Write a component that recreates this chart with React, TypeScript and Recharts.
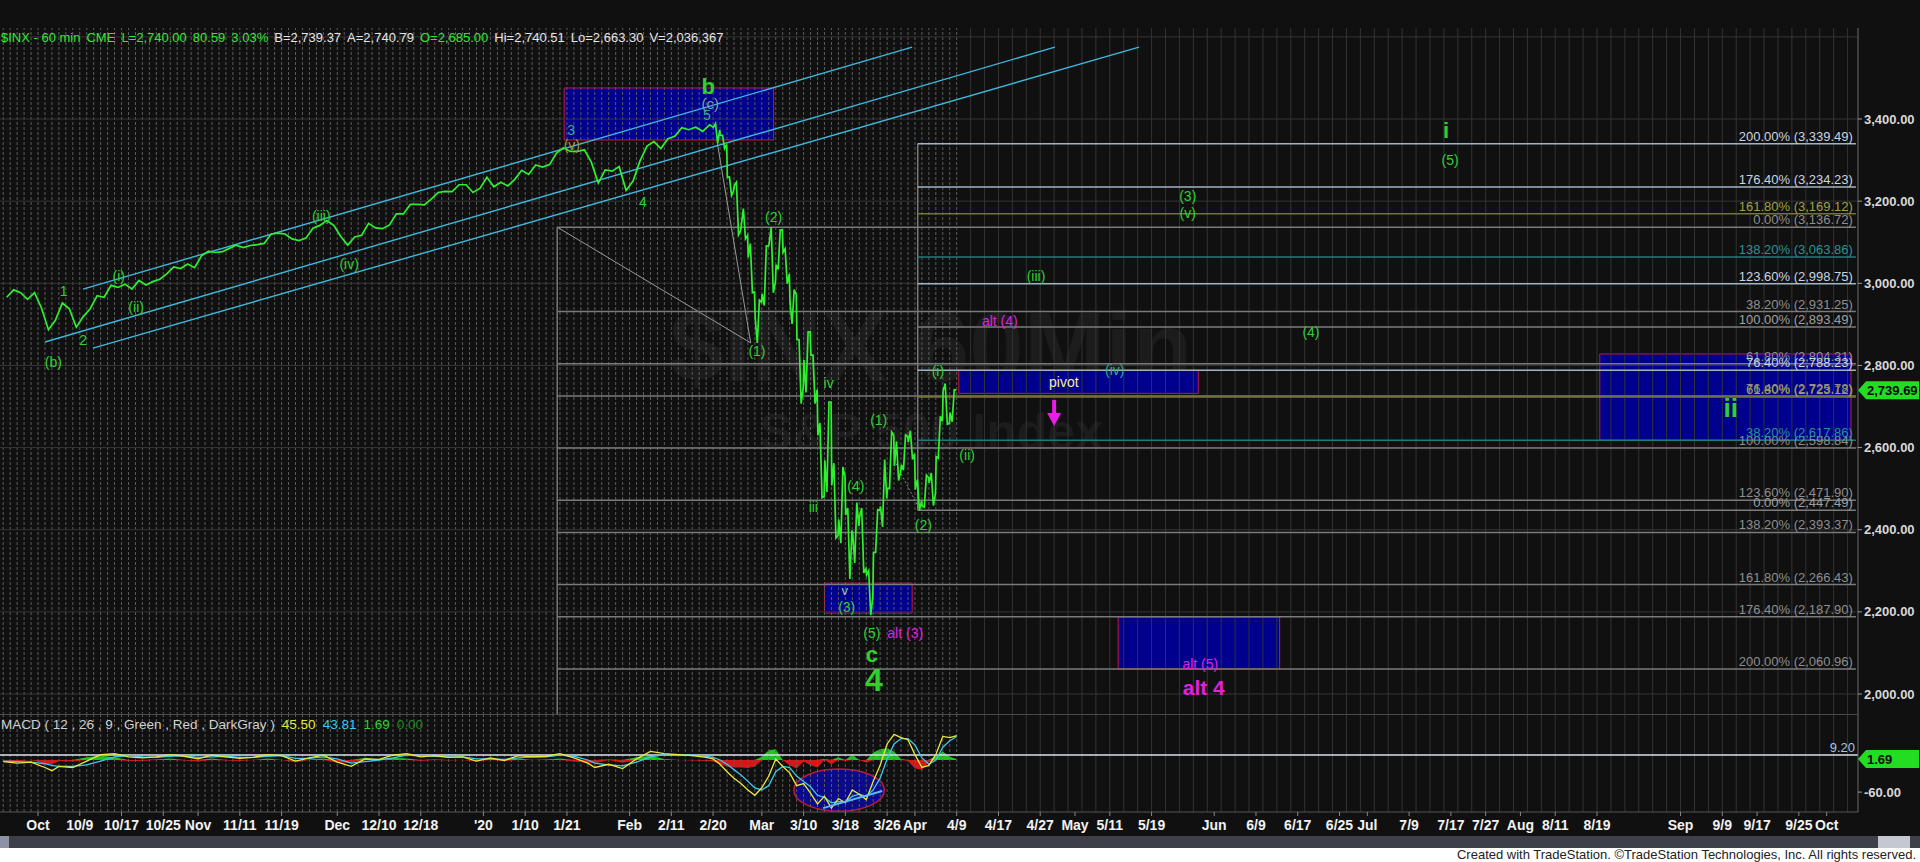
import React from 'react';
import {
  ComposedChart,
  Line,
  Area,
  Scatter,
  XAxis,
  YAxis,
  ReferenceLine,
  ReferenceArea,
  ReferenceDot,
} from 'recharts';

const NARROW = "'Liberation Sans Narrow', 'Arial Narrow', sans-serif";
const SANS = "'Liberation Sans', Arial, sans-serif";

// x runs in trading days from Oct 1 2019 (the empty future part counts weekdays)
const X_MIN = -5.46;
const X_MAX = 261.5;
const P_MIN = 1948.9;
const P_MAX = 3621.6;
const M_MIN = -97.2;
const M_MAX = 84.1;

const tickLabels = ['Oct', '10/9', '10/17', '10/25', 'Nov', '11/11', '11/19', 'Dec', '12/10', '12/18', "'20", '1/10', '1/21', 'Feb', '2/11', '2/20', 'Mar', '3/10', '3/18', '3/26', 'Apr', '4/9', '4/17', '4/27', 'May', '5/11', '5/19', 'Jun', '6/9', '6/17', '6/25', 'Jul', '7/9', '7/17', '7/27', 'Aug', '8/11', '8/19', 'Sep', '9/9', '9/17', '9/25', 'Oct'];
const tickDays = [0, 6, 12, 18, 23, 29, 35, 43, 49, 55, 64, 70, 76, 85, 91, 97, 104, 110, 116, 122, 126, 132, 138, 144, 149, 154, 160, 169, 175, 181, 187, 191, 197, 203, 208, 213, 218, 224, 236, 242, 247, 253, 257];
const priceTicks = [2000, 2200, 2400, 2600, 2800, 3000, 3200, 3400];

// one close per trading day, Sep 24 2019 .. Feb 19 2020
const CALM_START = -5;
const calmCloses = [
  2966, 2984, 2977, 2961, 2977, 2940, 2887, 2910, 2952, 2938, 2893, 2919, 2938, 2970, 2966, 2995, 2990, 2998, 2986, 3007,
  2996, 3004, 3010, 3023, 3040, 3036, 3047, 3038, 3067, 3078, 3075, 3077, 3085, 3093, 3087, 3092, 3094, 3097, 3120, 3122,
  3120, 3108, 3104, 3110, 3134, 3141, 3153, 3141, 3114, 3093, 3113, 3117, 3146, 3135, 3133, 3142, 3169, 3169, 3192, 3192,
  3191, 3205, 3221, 3224, 3223, 3240, 3240, 3221, 3231, 3258, 3235, 3246, 3237, 3253, 3275, 3265, 3288, 3283, 3289, 3317,
  3330, 3321, 3321, 3325, 3295, 3244, 3276, 3273, 3284, 3226, 3249, 3298, 3334, 3345, 3328, 3352, 3358, 3379, 3374, 3380,
  3370, 3386,
];

// open, high, low, close per day, Feb 20 .. Apr 8 2020
const CRASH_START = 97;
const crashBars = [
  [3380, 3389, 3341, 3373], [3360, 3360, 3328, 3338], [3258, 3259, 3214, 3226], [3238, 3246, 3118, 3128],
  [3140, 3182, 3108, 3116], [3063, 3097, 2977, 2979], [2916, 2959, 2855, 2954], [2974, 3091, 2946, 3090],
  [3096, 3137, 2977, 3003], [3045, 3130, 3034, 3130], [3075, 3084, 2999, 3023], [2954, 2985, 2901, 2972],
  [2863, 2863, 2707, 2746], [2813, 2882, 2734, 2882], [2825, 2825, 2707, 2741], [2630, 2660, 2478, 2481],
  [2569, 2711, 2492, 2711], [2508, 2562, 2380, 2386], [2425, 2553, 2367, 2529], [2436, 2453, 2280, 2398],
  [2393, 2466, 2319, 2409], [2431, 2453, 2295, 2305], [2290, 2300, 2192, 2237], [2345, 2449, 2345, 2447],
  [2457, 2571, 2407, 2476], [2501, 2638, 2500, 2630], [2555, 2615, 2520, 2541], [2558, 2631, 2545, 2627],
  [2614, 2641, 2571, 2585], [2498, 2522, 2447, 2470], [2458, 2533, 2455, 2527], [2514, 2538, 2459, 2489],
  [2578, 2676, 2574, 2664], [2738, 2756, 2657, 2659], [2685, 2741, 2663, 2740],
];
const LAST_PRICE = 2739.69;

// MACD panel
const macdDays = [-5, -3, -1, 1, 2, 3, 5, 7, 9, 11, 13, 15, 17, 19, 21, 23, 25, 27, 29, 31, 33, 35, 37, 39, 41, 43, 45, 47, 49, 51, 53, 55, 57, 59, 61, 63, 65, 67, 69, 71, 73, 75, 77, 79, 80, 82, 84, 86, 88, 90, 92, 94, 96, 97, 98, 99, 100, 101, 102, 103, 104, 105, 106, 107, 108, 109, 110, 111, 112, 113, 114, 115, 116, 117, 118, 119, 120, 121, 122, 123, 124, 125, 126, 127, 128, 129, 130, 131, 132];
const macdVals = [-3, -6, -4, -14, -20, -12, -14, -2, 10, 12, 6, 4, 6, 10, 7, 2, 9, 6, 3, 5, 10, 8, -2, 4, 9, -4, -12, 2, 1, 9, 12, 6, 8, 5, 6, -2, 4, -1, 8, 6, 7, 12, 4, -6, -14, -8, -16, 2, 16, 12, 10, 8, 5, 2, -8, -22, -34, -44, -56, -66, -52, -30, 2, -12, -24, -48, -44, -62, -82, -68, -90, -72, -80, -56, -64, -74, -40, -10, 30, 48, 42, 38, 10, -14, -10, 10, 44, 42, 45.5];
const signalVals = [-2, -3, -4, -7, -10, -12, -12, -9, -2, 6, 8, 6, 5, 7, 8, 5, 6, 7, 5, 5, 7, 8, 3, 3, 6, 2, -6, -3, 0, 4, 9, 8, 7, 6, 6, 2, 2, 1, 4, 6, 6, 9, 7, 0, -6, -9, -11, -4, 6, 10, 10, 9, 7, 5, 0, -8, -18, -28, -40, -52, -56, -48, -22, -12, -14, -30, -40, -50, -66, -70, -80, -78, -78, -68, -64, -68, -56, -34, 2, 30, 40, 40, 28, 4, -8, 0, 24, 36, 43.8];
const histVals = [-1, -3, 0, -7, -8, -2, -3, 5, 8, 5, -2, -2, 1, 3, -1, -3, 3, -1, -2, 0, 3, 0, -4, 1, 3, -5, -5, 4, 1, 4, 3, -2, 1, -1, 0, -3, 2, -2, 3, 0, 1, 3, -3, -5, -6, 1, -5, 5, 8, 2, 0, -1, -2, -3, -8, -12, -14, -14, -15, -12, 6, 18, 20, 0, -10, -16, -3, -10, -14, 2, -8, 5, -2, 10, 0, -5, 14, 20, 22, 16, 2, -2, -16, -18, -4, 8, 16, 6, 1.69];

// fib extension drawn from the Feb top (gray) and from the Apr 1 low
const FIB_A_START = 74.6;
const fibA = [
  ['0.00%', 3136.72], ['38.20%', 2931.25], ['61.80%', 2804.31], ['76.40%', 2725.78], ['100.00%', 2598.84],
  ['123.60%', 2471.9], ['138.20%', 2393.37], ['161.80%', 2266.43], ['176.40%', 2187.9], ['200.00%', 2060.96],
];
const FIB_B_START = 126.4;
const fibB = [
  ['0.00%', 2447.49], ['38.20%', 2617.86], ['61.80%', 2723.12], ['76.40%', 2788.23], ['100.00%', 2893.49],
  ['123.60%', 2998.75], ['138.20%', 3063.86], ['161.80%', 3169.12], ['176.40%', 3234.23], ['200.00%', 3339.49],
];
const FIB_END = 261.2;

// channel lines [d1, p1, d2, p2]
const channels = [
  [6.47, 2986, 125.6, 3575],
  [1.0, 2857, 146.1, 3575],
  [7.9, 2842, 158.2, 3575],
];

// target boxes [d1, d2, p1, p2]
const boxes = [
  [75.6, 105.7, 3349, 3475.5],
  [132.3, 166.7, 2732, 2788],
  [224.4, 260.5, 2618, 2828],
  [113, 125.6, 2197, 2270],
  [155.2, 178.4, 2061, 2187.5],
];

const waveLabels = [
  { t: '(b)', d: 2.2, p: 2808, k: 'g' },
  { t: '1', d: 3.7, p: 2981, k: 'g' },
  { t: '2', d: 6.5, p: 2862, k: 'g' },
  { t: '(i)', d: 11.6, p: 3018, k: 'g' },
  { t: '(ii)', d: 14.1, p: 2942, k: 'g' },
  { t: '(iii)', d: 40.7, p: 3164, k: 'g' },
  { t: '(iv)', d: 44.7, p: 3047, k: 'g' },
  { t: '3', d: 76.6, p: 3373, k: 'teal' },
  { t: '(v)', d: 76.7, p: 3337, k: 'olive' },
  { t: '4', d: 86.9, p: 3198, k: 'g' },
  { t: 'b', d: 96.3, p: 3478, k: 'big' },
  { t: '(c)', d: 96.6, p: 3437, k: 'grayTeal' },
  { t: '5', d: 96.1, p: 3410, k: 'teal' },
  { t: '(1)', d: 103.3, p: 2835, k: 'g' },
  { t: '(2)', d: 105.7, p: 3161, k: 'g' },
  { t: 'iv', d: 113.6, p: 2757, k: 'g' },
  { t: 'iii', d: 111.4, p: 2455, k: 'g' },
  { t: '(4)', d: 117.5, p: 2506, k: 'g' },
  { t: '(1)', d: 120.8, p: 2667, k: 'g' },
  { t: 'v', d: 115.9, p: 2253, k: 'pale' },
  { t: '(3)', d: 116.2, p: 2212, k: 'g' },
  { t: '(5)', d: 119.8, p: 2149, k: 'g' },
  { t: 'alt (3)', d: 124.6, p: 2149, k: 'alt' },
  { t: 'c', d: 119.8, p: 2095, k: 'big' },
  { t: '4', d: 120.1, p: 2034, k: 'huge' },
  { t: '(2)', d: 127.2, p: 2411, k: 'g' },
  { t: '(i)', d: 129.3, p: 2786, k: 'g' },
  { t: '(ii)', d: 133.5, p: 2582, k: 'g' },
  { t: 'alt (4)', d: 138.2, p: 2908, k: 'alt' },
  { t: '(iii)', d: 143.4, p: 3018, k: 'g' },
  { t: '(iv)', d: 154.7, p: 2789, k: 'teal' },
  { t: '(3)', d: 165.2, p: 3213, k: 'g' },
  { t: '(v)', d: 165.2, p: 3171, k: 'g' },
  { t: '(4)', d: 182.9, p: 2881, k: 'g' },
  { t: 'i', d: 202.3, p: 3373, k: 'big' },
  { t: '(5)', d: 202.9, p: 3300, k: 'g' },
  { t: 'ii', d: 243.2, p: 2696, k: 'bigger' },
  { t: 'alt (5)', d: 167, p: 2073, k: 'alt' },
  { t: 'alt 4', d: 167.5, p: 2017, k: 'altBig' },
  { t: 'pivot', d: 147.4, p: 2760, k: 'pivot' },
];

const headerItems = [
  ['$INX - 60 min', '#33e633'], ['CME', '#33e633'], ['L=2,740.00', '#33e633'], ['80.59', '#33e633'], ['3.03%', '#33e633'],
  ['B=2,739.37', '#e6e6e6'], ['A=2,740.79', '#e6e6e6'], ['O=2,685.00', '#33e633'], ['Hi=2,740.51', '#e6e6e6'],
  ['Lo=2,663.30', '#e6e6e6'], ['V=2,036,367', '#e6e6e6'],
];

const labelStyle: Record<string, any> = {
  g: { fill: '#2fd12f', fontSize: 14, fontFamily: NARROW },
  teal: { fill: '#3aa88e', fontSize: 14, fontFamily: NARROW },
  olive: { fill: '#a39445', fontSize: 14, fontFamily: NARROW },
  grayTeal: { fill: '#6fa6a6', fontSize: 15, fontFamily: NARROW },
  pale: { fill: '#a8c8a8', fontSize: 13, fontFamily: NARROW },
  big: { fill: '#2fd12f', fontSize: 22, fontWeight: 700, fontFamily: SANS },
  bigger: { fill: '#2fd12f', fontSize: 26, fontWeight: 700, fontFamily: SANS },
  huge: { fill: '#2fd12f', fontSize: 32, fontWeight: 700, fontFamily: SANS },
  alt: { fill: '#e020e0', fontSize: 14, fontFamily: NARROW },
  altBig: { fill: '#e020e0', fontSize: 21, fontWeight: 700, fontFamily: SANS },
  pivot: { fill: '#f2f29a', fontSize: 14, fontFamily: SANS },
};

const fmt2 = (v: number) => v.toLocaleString('en-US', { minimumFractionDigits: 2, maximumFractionDigits: 2 });

const fibBColors = (pct: string) => {
  if (pct === '38.20%' || pct === '138.20%') return ['#1d7b7b', '#2b9393'];
  if (pct === '61.80%' || pct === '161.80%') return ['#76762a', '#a2a244'];
  if (pct === '0.00%' || pct === '100.00%') return ['#7d7d7d', '#a0a0a0'];
  return ['#9fb3c6', '#c9d5e0'];
};

const priceRows = [
  ...calmCloses.map((p, i) => ({ d: CALM_START + i + 0.5, p })),
  ...crashBars.flatMap((b, i) => {
    const [o, h, l, c] = b;
    const d = CRASH_START + i;
    const mid = c >= o ? [l, h] : [h, l];
    return [
      { d: d + 0.05, p: o },
      { d: d + 0.35, p: mid[0] },
      { d: d + 0.65, p: mid[1] },
      { d: d + 0.95, p: c },
    ];
  }),
];

const macdRows = macdDays.map((d, i) => ({
  d,
  macd: macdVals[i],
  signal: signalVals[i],
  pos: Math.max(histVals[i], 0),
  neg: Math.min(histVals[i], 0),
}));

// daily dashed grid over the traded part, sparser solid grid over the empty future
const histGrid = Array.from({ length: 138 }, (_, i) => -5 + i);
const futGrid = Array.from({ length: 64 }, (_, i) => 134 + i * 2);

const gridLines = () => [
  ...histGrid.map((d) => (
    <ReferenceLine key={`h${d}`} x={d} stroke="#5c5c5c" strokeDasharray="3 2" />
  )),
  ...futGrid.map((d) => <ReferenceLine key={`f${d}`} x={d} stroke="#333333" />),
];

const WaveText = (props: any) => {
  const { cx, cy, payload } = props;
  const s = labelStyle[payload.k];
  return (
    <text x={cx} y={cy} textAnchor="middle" dominantBaseline="central" {...s}>
      {payload.t}
    </text>
  );
};

const PriceTag = (props: any) => {
  const { cx, cy } = props;
  return (
    <g>
      <polygon
        points={`${cx},${cy} ${cx + 8},${cy - 9} ${cx + 61},${cy - 9} ${cx + 61},${cy + 9} ${cx + 8},${cy + 9}`}
        fill="#22dd22"
      />
      <text x={cx + 9} y={cy} dominantBaseline="central" fill="#0b0b0b" fontSize={13} fontWeight={700} fontFamily={SANS}>
        {props.text}
      </text>
    </g>
  );
};

const DownArrow = (props: any) => {
  const { cx, cy } = props;
  return (
    <g fill="#e81ee8">
      <rect x={cx - 2} y={cy} width={4} height={16} />
      <polygon points={`${cx - 7},${cy + 13} ${cx + 7},${cy + 13} ${cx},${cy + 26}`} />
    </g>
  );
};

const Ellipse = (props: any) => {
  const { x, y, width, height } = props;
  return (
    <ellipse
      cx={x + width / 2}
      cy={y + height / 2}
      rx={width / 2}
      ry={height / 2}
      fill="#0a0a8a"
      stroke="#c0183c"
      strokeWidth={1.5}
    />
  );
};

const PriceChart = () => (
  <ComposedChart width={1920} height={687} margin={{ top: 0, right: 0, bottom: 0, left: 0 }}>
    <XAxis dataKey="d" type="number" domain={[X_MIN, X_MAX]} hide allowDataOverflow />
    <YAxis
      orientation="right"
      width={62}
      type="number"
      domain={[P_MIN, P_MAX]}
      ticks={priceTicks}
      tickFormatter={fmt2}
      allowDataOverflow
      axisLine={{ stroke: '#6a6a6a' }}
      tickLine={{ stroke: '#9a9a9a' }}
      tickSize={4}
      tick={{ fill: '#d8d8d8', fontSize: 13, fontWeight: 700, fontFamily: SANS }}
    />
    {gridLines()}
    {[...priceTicks, 3600].map((p) => (
      <ReferenceLine key={`g${p}`} y={p} stroke="#353535" />
    ))}

    {boxes.map((b, i) => (
      <ReferenceArea key={`b${i}`} x1={b[0]} x2={b[1]} y1={b[2]} y2={b[3]} fill="#00008f" fillOpacity={1} stroke="#c8163c" strokeWidth={1} />
    ))}

    {/* fib anchors */}
    <ReferenceLine segment={[{ x: FIB_A_START, y: 3136.72 }, { x: FIB_A_START, y: 1950 }]} stroke="#7a7a7a" strokeWidth={1.5} />
    <ReferenceLine segment={[{ x: FIB_B_START, y: 3339.49 }, { x: FIB_B_START, y: 2447.49 }]} stroke="#7a7a7a" strokeWidth={1.5} />
    <ReferenceLine segment={[{ x: FIB_A_START, y: 3136.72 }, { x: 102.4, y: 2855 }]} stroke="#9a9a9a" />
    <ReferenceLine segment={[{ x: 102.4, y: 2855 }, { x: 97.6, y: 3342 }]} stroke="#9a9a9a" />
    <ReferenceLine segment={[{ x: 123, y: 2570 }, { x: 126.5, y: 2455 }]} stroke="#8a8a8a" strokeDasharray="2 2" />

    {fibA.map(([pct, v]) => (
      <ReferenceLine
        key={`a${pct}`}
        segment={[{ x: FIB_A_START, y: v as number }, { x: FIB_END, y: v as number }]}
        stroke="#7a7a7a"
        strokeWidth={1.5}
        label={{ value: `${pct} (${fmt2(v as number)})`, position: 'insideBottomRight', offset: 3, fill: '#8e8e8e', fontSize: 13, fontFamily: SANS }}
      />
    ))}
    {fibB.map(([pct, v]) => {
      const [line, text] = fibBColors(pct as string);
      return (
        <ReferenceLine
          key={`bb${pct}`}
          segment={[{ x: FIB_B_START, y: v as number }, { x: FIB_END, y: v as number }]}
          stroke={line}
          strokeWidth={1.5}
          label={{ value: `${pct} (${fmt2(v as number)})`, position: 'insideBottomRight', offset: 3, fill: text, fontSize: 13, fontFamily: SANS }}
        />
      );
    })}

    {channels.map((c, i) => (
      <ReferenceLine key={`c${i}`} segment={[{ x: c[0], y: c[1] }, { x: c[2], y: c[3] }]} stroke="#3cb8dc" strokeWidth={1.4} />
    ))}

    <Line data={priceRows} dataKey="p" stroke="#2ef02e" strokeWidth={1.7} dot={false} isAnimationActive={false} />
    <Scatter data={waveLabels} dataKey="p" shape={WaveText} isAnimationActive={false} />
    <ReferenceDot x={146} y={2716} r={0} shape={DownArrow} />
    <ReferenceDot x={X_MAX} y={LAST_PRICE} r={0} shape={(p: any) => <PriceTag {...p} text={fmt2(LAST_PRICE)} />} />
  </ComposedChart>
);

const MacdChart = () => (
  <ComposedChart width={1920} height={120} margin={{ top: 0, right: 0, bottom: 0, left: 0 }} data={macdRows}>
    <XAxis
      dataKey="d"
      type="number"
      domain={[X_MIN, X_MAX]}
      ticks={tickDays}
      interval={0}
      tickFormatter={(v: number) => tickLabels[tickDays.indexOf(v)]}
      height={23}
      allowDataOverflow
      axisLine={{ stroke: '#555' }}
      tickLine={{ stroke: '#888' }}
      tickSize={4}
      tickMargin={4}
      tick={{ fill: '#f2f2f2', fontSize: 14, fontWeight: 700, fontFamily: NARROW }}
    />
    <YAxis
      orientation="right"
      width={62}
      type="number"
      domain={[M_MIN, M_MAX]}
      ticks={[-60]}
      tickFormatter={(v: number) => v.toFixed(2)}
      allowDataOverflow
      axisLine={{ stroke: '#6a6a6a' }}
      tickLine={{ stroke: '#9a9a9a' }}
      tickSize={4}
      tick={{ fill: '#d8d8d8', fontSize: 13, fontWeight: 700, fontFamily: SANS }}
    />
    {gridLines()}
    <ReferenceArea x1={108.6} x2={121.6} y1={-96} y2={-17} shape={Ellipse} />
    <Area dataKey="pos" type="linear" fill="#1fc41f" fillOpacity={1} stroke="none" baseValue={0} isAnimationActive={false} />
    <Area dataKey="neg" type="linear" fill="#d81616" fillOpacity={1} stroke="none" baseValue={0} isAnimationActive={false} />
    <ReferenceLine
      y={9.2}
      stroke="#d8e2ec"
      strokeWidth={1.5}
      label={{ value: '9.20', position: 'insideBottomRight', offset: 3, fill: '#a9c4e0', fontSize: 13, fontFamily: SANS }}
    />
    <Line dataKey="signal" stroke="#3cc8f0" strokeWidth={1.3} dot={false} isAnimationActive={false} />
    <Line dataKey="macd" stroke="#e8e83a" strokeWidth={1.3} dot={false} isAnimationActive={false} />
    <ReferenceLine segment={[{ x: 112.8, y: -90 }, { x: 121.3, y: -58 }]} stroke="#5ab8ff" strokeWidth={2} />
    <ReferenceDot x={X_MAX} y={1.69} r={0} shape={(p: any) => <PriceTag {...p} text="1.69" />} />
  </ComposedChart>
);

export default function App() {
  return (
    <div style={{ position: 'relative', width: 1920, height: 862, background: '#101010', overflow: 'hidden' }}>
      <style>{'body{margin:0;background:#101010}'}</style>

      {/* symbol watermark */}
      <div style={{ position: 'absolute', left: 0, width: 1862, top: 292, textAlign: 'center', fontFamily: SANS, fontWeight: 700, fontSize: 98, color: '#1c1c1c', lineHeight: '110px' }}>
        $INX 60Min
      </div>
      <div style={{ position: 'absolute', left: 0, width: 1862, top: 402, textAlign: 'center', fontFamily: SANS, fontWeight: 700, fontSize: 50, color: '#1c1c1c', lineHeight: '60px' }}>
        S&amp;P 500 Index
      </div>

      <div style={{ position: 'absolute', left: 0, top: 28 }}>
        <PriceChart />
      </div>

      <div style={{ position: 'absolute', left: 1, top: 30, display: 'flex', gap: 6, fontFamily: NARROW, fontSize: 13, lineHeight: '16px' }}>
        {headerItems.map(([t, c], i) => (
          <span key={i} style={{ color: c }}>{t}</span>
        ))}
      </div>

      <div style={{ position: 'absolute', left: 0, top: 714, width: 1858, height: 1, background: '#4a4a4a' }} />
      <div style={{ position: 'absolute', left: 0, top: 715 }}>
        <MacdChart />
      </div>
      <div style={{ position: 'absolute', left: 1, top: 716, display: 'flex', gap: 7, fontFamily: NARROW, fontSize: 13.5, lineHeight: '17px' }}>
        <span style={{ color: '#d0d0d0' }}>MACD ( 12 , 26 , 9 , Green , Red , DarkGray )</span>
        <span style={{ color: '#e8e83a' }}>45.50</span>
        <span style={{ color: '#3cc8f0' }}>43.81</span>
        <span style={{ color: '#2fd12f' }}>1.69</span>
        <span style={{ color: '#1f8a1f' }}>0.00</span>
      </div>

      {/* scroll bar and footer */}
      <div style={{ position: 'absolute', left: 0, top: 836, width: 1920, height: 12, background: '#3d4049' }} />
      <div style={{ position: 'absolute', left: 0, top: 836, width: 9, height: 12, background: '#8c94a4' }} />
      <div style={{ position: 'absolute', left: 1878, top: 836, width: 32, height: 12, background: '#c4c8d0' }} />
      <div style={{ position: 'absolute', left: 0, top: 848, width: 1920, height: 14, background: '#ffffff' }} />
      <div style={{ position: 'absolute', right: 4, top: 847, fontFamily: NARROW, fontSize: 13, lineHeight: '15px', color: '#222' }}>
        Created with TradeStation. ©TradeStation Technologies, Inc. All rights reserved.
      </div>
    </div>
  );
}
